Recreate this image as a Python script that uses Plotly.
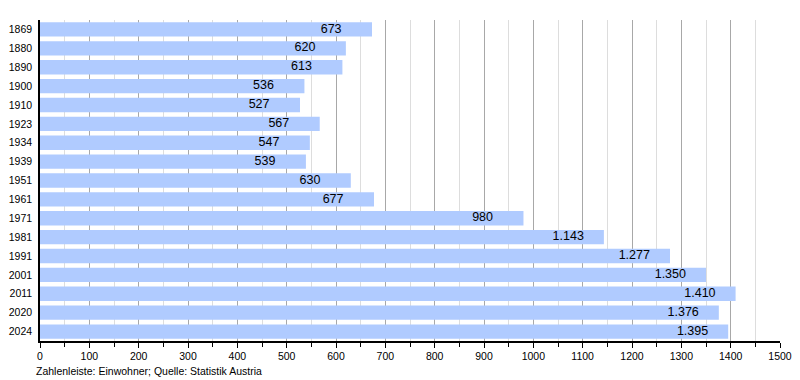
import plotly.graph_objects as go

years = ["1869", "1880", "1890", "1900", "1910", "1923", "1934", "1939", "1951",
         "1961", "1971", "1981", "1991", "2001", "2011", "2020", "2024"]
population = [673, 620, 613, 536, 527, 567, 547, 539, 630,
              677, 980, 1143, 1277, 1350, 1410, 1376, 1395]
x_ticks = list(range(0, 1501, 100))
caption = "Zahlenleiste: Einwohner; Quelle: Statistik Austria"

FONT = "Liberation Sans, Arial, sans-serif"
labels = [f"{v:,}".replace(",", ".") for v in population]
label_shift = 104  # label starts this many units left of the bar end

fig = go.Figure()
fig.add_trace(go.Bar(
    x=population, y=years, orientation="h",
    marker=dict(color="#b0cbff", line=dict(width=0)),
    hoverinfo="skip",
))
fig.add_trace(go.Scatter(
    x=[v - label_shift for v in population], y=years, mode="text",
    text=labels, textposition="middle right",
    textfont=dict(family=FONT, size=12.5, color="#000000"),
    hoverinfo="skip", cliponaxis=False,
))

n = len(years)
fig.update_layout(
    width=792, height=372,
    margin=dict(l=32, r=20, t=12, b=39, autoexpand=False),
    paper_bgcolor="white", plot_bgcolor="white",
    showlegend=False, bargap=0.24,
    font=dict(family=FONT, size=10.5, color="#000000"),
    xaxis=dict(
        range=[0, 1500], tickvals=x_ticks, ticktext=[str(t) for t in x_ticks],
        showgrid=True, gridcolor="#a8a8a8", gridwidth=1,
        showline=True, linecolor="#000000", linewidth=1.5,
        ticks="outside", ticklen=5, tickcolor="#000000", tickwidth=1,
        zeroline=False, fixedrange=True, automargin=False,
        tickfont=dict(size=10.5),
        minor=dict(dtick=50, tick0=0, showgrid=True, gridcolor="#dddddd",
                   ticks="outside", ticklen=4, tickcolor="#000000"),
    ),
    yaxis=dict(
        type="category", range=[n - 0.5, -0.5],
        showgrid=False, showline=True, linecolor="#000000", linewidth=1.5,
        ticks="", ticklabelstandoff=4, tickfont=dict(size=10.5),
        zeroline=False, fixedrange=True, automargin=False,
    ),
    annotations=[dict(
        text=caption, xref="paper", yref="paper", x=-0.008, y=-0.0685,
        xanchor="left", yanchor="top", showarrow=False,
        font=dict(family=FONT, size=10.5, color="#000000"),
    )],
)

fig.write_html("out.html")
